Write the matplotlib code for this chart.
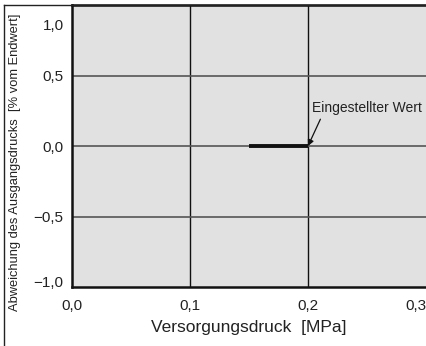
import matplotlib
matplotlib.use("Agg")
import matplotlib.pyplot as plt
from matplotlib.lines import Line2D
from matplotlib.transforms import ScaledTranslation

plt.rcParams['font.family'] = ['Liberation Sans', 'DejaVu Sans']

x_ticks = [0.0, 0.1, 0.2, 0.3]
x_labels = ["0,0", "0,1", "0,2", "0,3"]
y_ticks = [-1.0, -0.5, 0.0, 0.5, 1.0]
y_labels = ["\u22121,0", "\u22120,5", "0,0", "0,5", "1,0"]
line_x = [0.15, 0.2]
line_y = [0.0, 0.0]
annot_text = "Eingestellter Wert"
annot_point = (0.2, 0.0)

fig = plt.figure(figsize=(4.26, 3.46), dpi=100)
ax = fig.add_axes([72/426, 59/346, 1 - 72/426, (287-5)/346])
ax.set_facecolor('#e1e1e1')
ax.set_xlim(0, 0.3)
ax.set_ylim(-1, 1)

for v in x_ticks[1:3]:
    ax.axvline(v, color='#111111', lw=1.0, zorder=1)
for v in y_ticks[1:4]:
    ax.axhline(v, color='#555555', lw=1.2, zorder=1)

ax.plot(line_x, line_y, color='#111111', lw=2.8, solid_capstyle='butt', zorder=3)

ax.annotate("", xy=annot_point, xytext=(0.2105, 0.19),
            arrowprops=dict(arrowstyle='-|>', color='#111111', lw=0.9,
                            mutation_scale=9, shrinkA=0, shrinkB=0),
            zorder=4)
ax.text(0.2034, 0.27, annot_text, fontsize=10, color='#222222',
        va='center', ha='left', zorder=4)

ax.set_xticks(x_ticks)
ax.set_xticklabels(x_labels)
ax.set_yticks(y_ticks)
ax.set_yticklabels(y_labels[:-1] + [""])
ax.tick_params(length=0, labelsize=11, colors='#222222', pad=6)
ax.tick_params(axis='x', pad=9)
xl = ax.get_xticklabels()
xl[-1].set_ha('right')
yl = ax.get_yticklabels()
yl[0].set_va('baseline')

off = ScaledTranslation(-6/72, -10/72, fig.dpi_scale_trans)
ax.text(0, 1.0, y_labels[-1], transform=ax.get_yaxis_transform(which='tick1') + off,
        ha='right', va='top', fontsize=11, color='#222222')

ax.spines['right'].set_visible(False)
for s in ['left', 'bottom', 'top']:
    ax.spines[s].set_linewidth(1.8)
for s in ax.spines.values():
    s.set_color('#111111')

ax.set_xlabel("Versorgungsdruck  [MPa]", fontsize=12.5, color='#222222', labelpad=5)
fig.text(15/426, 1 - 162/346, "Abweichung des Ausgangsdrucks  [% vom Endwert]",
         rotation=90, ha='center', va='center', fontsize=9.3, color='#222222')

fig.add_artist(Line2D([4/426, 4/426], [0, 1 - 5/346], transform=fig.transFigure,
                      color='#222222', lw=1.0))
fig.add_artist(Line2D([4/426, 1], [1 - 5/346, 1 - 5/346], transform=fig.transFigure,
                      color='#222222', lw=1.0))

fig.savefig("out.png", dpi=100)
